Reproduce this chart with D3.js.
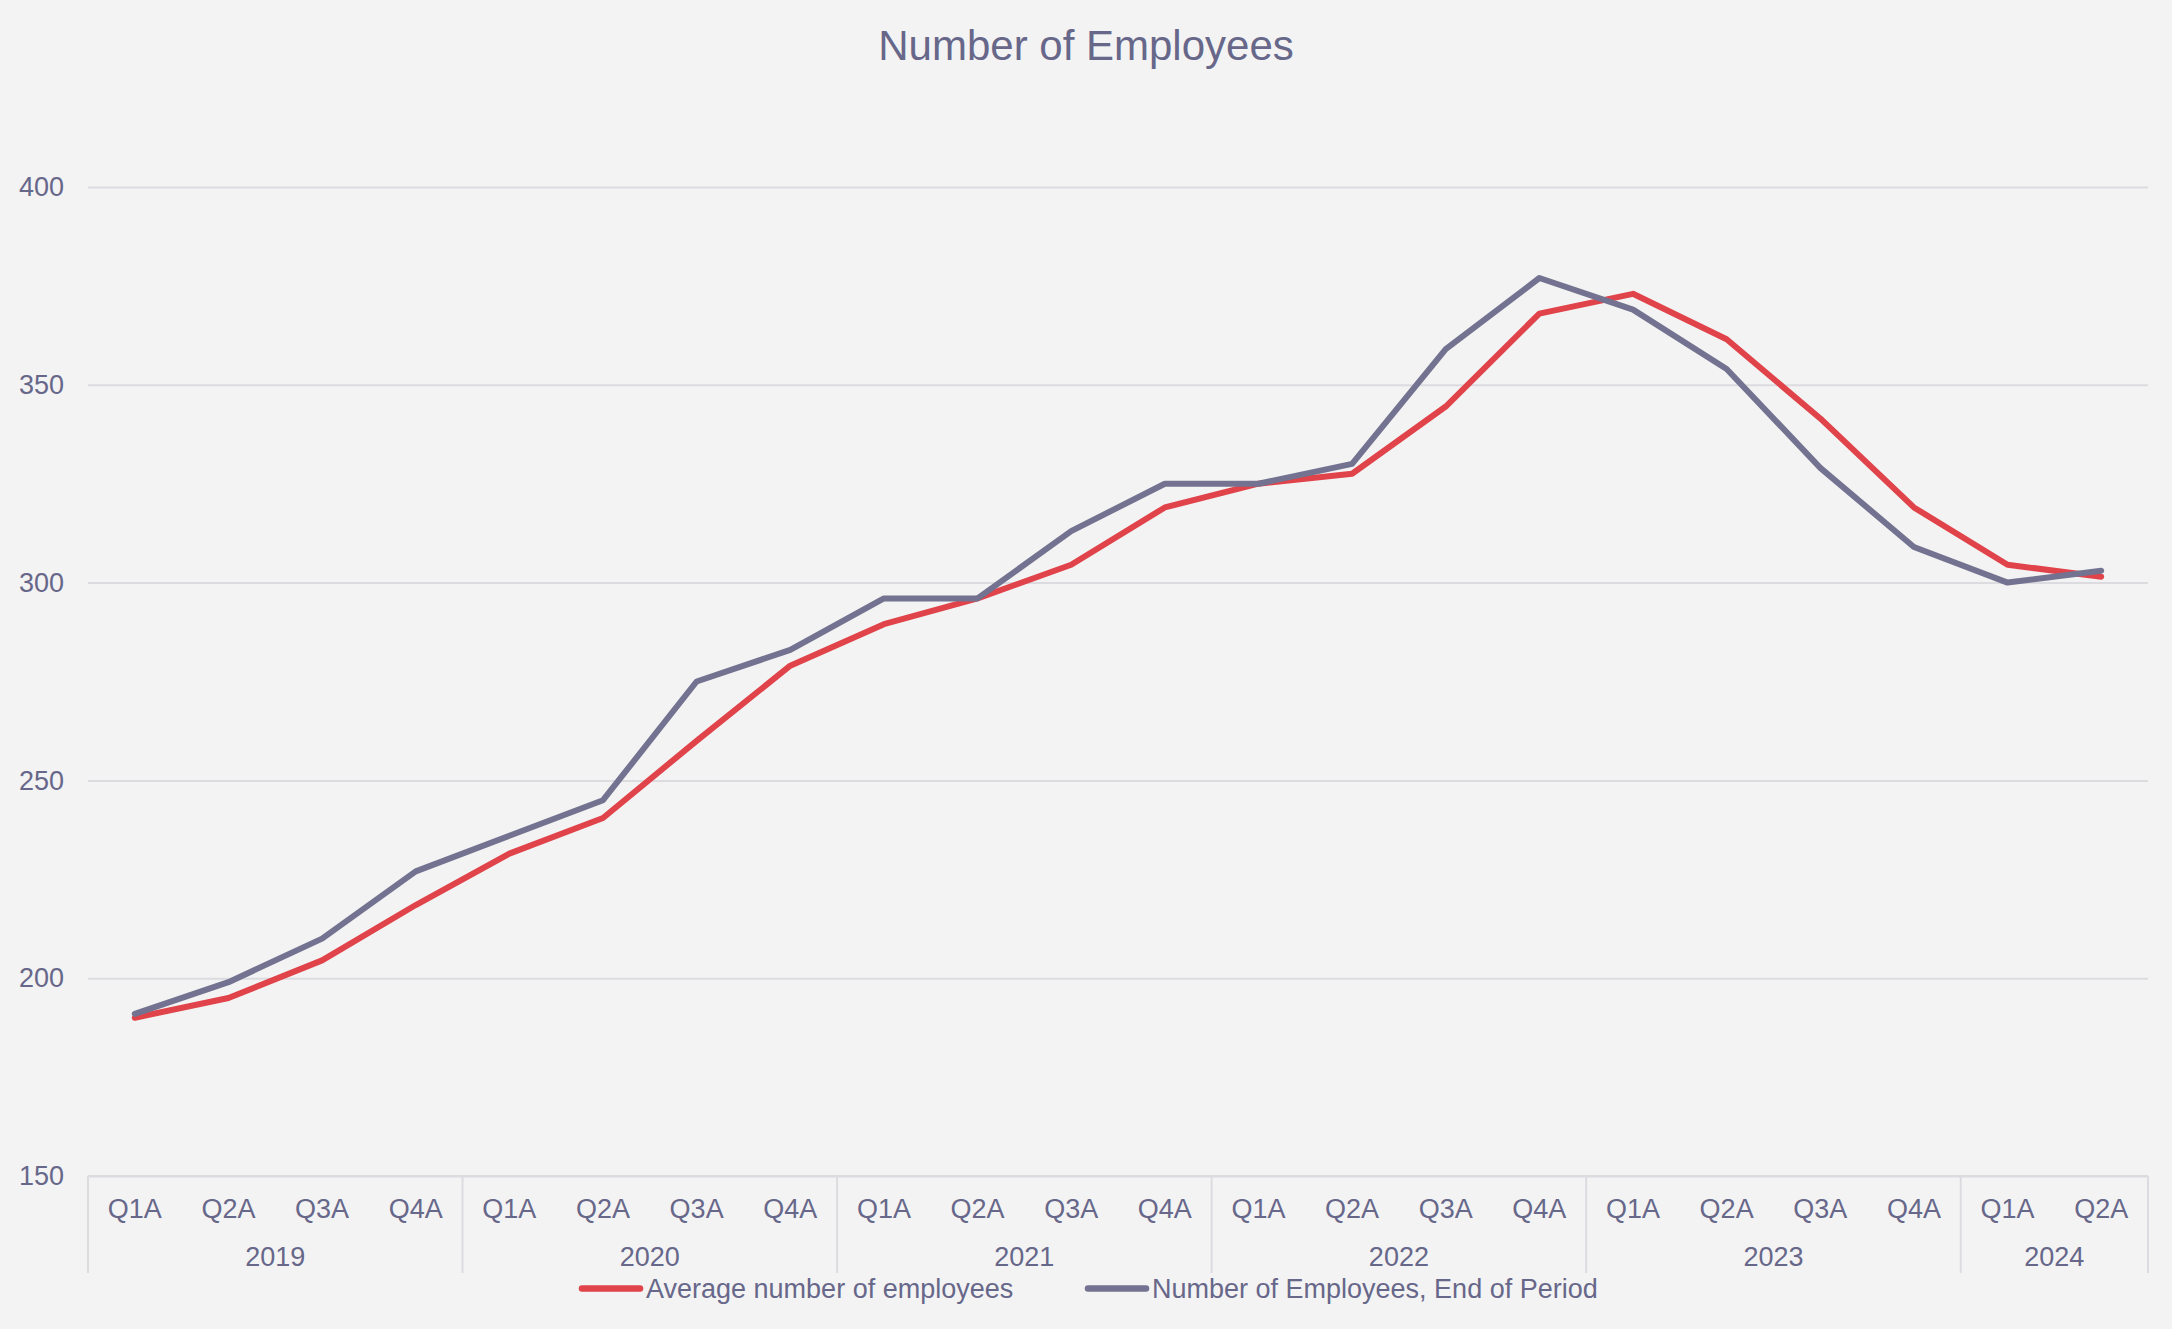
<!DOCTYPE html>
<html>
<head>
<meta charset="utf-8">
<script src="https://cdn.jsdelivr.net/npm/d3@7"></script>
<style>
  html, body { margin: 0; padding: 0; background: #f3f3f3; }
  svg { display: block; }
  text { font-family: "Liberation Sans", Arial, sans-serif; fill: #67678a; }
</style>
</head>
<body>
<svg id="chart" width="2172" height="1329"></svg>
<script>
const quarters = ["Q1A","Q2A","Q3A","Q4A","Q1A","Q2A","Q3A","Q4A","Q1A","Q2A","Q3A","Q4A",
                  "Q1A","Q2A","Q3A","Q4A","Q1A","Q2A","Q3A","Q4A","Q1A","Q2A"];
const years = ["2019","2020","2021","2022","2023","2024"];
const yearSpans = [4,4,4,4,4,2];
const averageEmployees = [190,195,204.5,218.5,231.5,240.5,260,279,289.5,296,304.5,319,
                          325,327.5,344.5,368,373,361.5,341.5,319,304.5,301.5];
const endOfPeriod = [191,199,210,227,236,245,275,283,296,296,313,325,
                     325,330,359,377,369,354,329,309,300,303];
const yTicks = [150,200,250,300,350,400];
const seriesNames = ["Average number of employees","Number of Employees, End of Period"];
const seriesColors = ["#e0434a","#737391"];

const W = 2172, H = 1329;
const m = {left: 88, right: 2148, top: 187, bottom: 1176};
const svg = d3.select("#chart");
svg.append("rect").attr("width", W).attr("height", H).attr("fill", "#f3f3f3");

const x = d3.scaleBand().domain(d3.range(quarters.length)).range([m.left, m.right]).paddingInner(0).paddingOuter(0);
const y = d3.scaleLinear().domain([150,400]).range([m.bottom, m.top]);
const cx = i => x(i) + x.bandwidth()/2;

// title
svg.append("text").attr("x", W/2).attr("y", 60).attr("text-anchor","middle")
  .style("font-size","42px").text("Number of Employees");

// gridlines + y labels via axis
const yAxis = d3.axisLeft(y).tickValues(yTicks).tickSize(-(m.right - m.left)).tickPadding(24);
const gy = svg.append("g").attr("transform", `translate(${m.left},0)`).call(yAxis);
gy.select(".domain").remove();
gy.selectAll(".tick line").attr("stroke", "#dcdbe0").attr("stroke-width", 2);
gy.selectAll(".tick text").style("font-size","27px").attr("fill","#67678a")
  .style("font-family","'Liberation Sans', Arial, sans-serif");

// x axis box
const axisG = svg.append("g");
axisG.append("line").attr("x1", m.left).attr("x2", m.right).attr("y1", m.bottom).attr("y2", m.bottom)
  .attr("stroke", "#dcdbe0").attr("stroke-width", 2);
axisG.selectAll("text.q").data(quarters).enter().append("text").attr("class","q")
  .attr("x", (d,i) => cx(i)).attr("y", 1218).attr("text-anchor","middle")
  .style("font-size","27px").text(d => d);
let start = 0;
const bounds = [0];
years.forEach((yr, k) => {
  const s = start, e = start + yearSpans[k] - 1;
  const xm = (x(s) + x(e) + x.bandwidth())/2;
  axisG.append("text").attr("x", xm).attr("y", 1266).attr("text-anchor","middle")
    .style("font-size","27px").text(yr);
  start += yearSpans[k];
  bounds.push(start);
});
bounds.forEach(b => {
  const bx = b < quarters.length ? x(b) : m.right;
  axisG.append("line").attr("x1", bx).attr("x2", bx).attr("y1", m.bottom).attr("y2", 1273)
    .attr("stroke", "#dcdbe0").attr("stroke-width", 2);
});

// lines
const line = d3.line().x((d,i) => cx(i)).y(d => y(d));
[averageEmployees, endOfPeriod].forEach((vals, k) => {
  svg.append("path").datum(vals).attr("d", line).attr("fill","none")
    .attr("stroke", seriesColors[k]).attr("stroke-width", 6)
    .attr("stroke-linejoin","round").attr("stroke-linecap","round");
});

// legend
const legendItems = [{sx: 579, tx: 646}, {sx: 1085, tx: 1152}];
seriesNames.forEach((name, k) => {
  const it = legendItems[k];
  svg.append("line").attr("x1", it.sx + 3).attr("x2", it.sx + 61).attr("y1", 1288.5).attr("y2", 1288.5)
    .attr("stroke", seriesColors[k]).attr("stroke-width", 6.5).attr("stroke-linecap","round");
  svg.append("text").attr("x", it.tx).attr("y", 1297.5).style("font-size","27px").text(name);
});
</script>
</body>
</html>
